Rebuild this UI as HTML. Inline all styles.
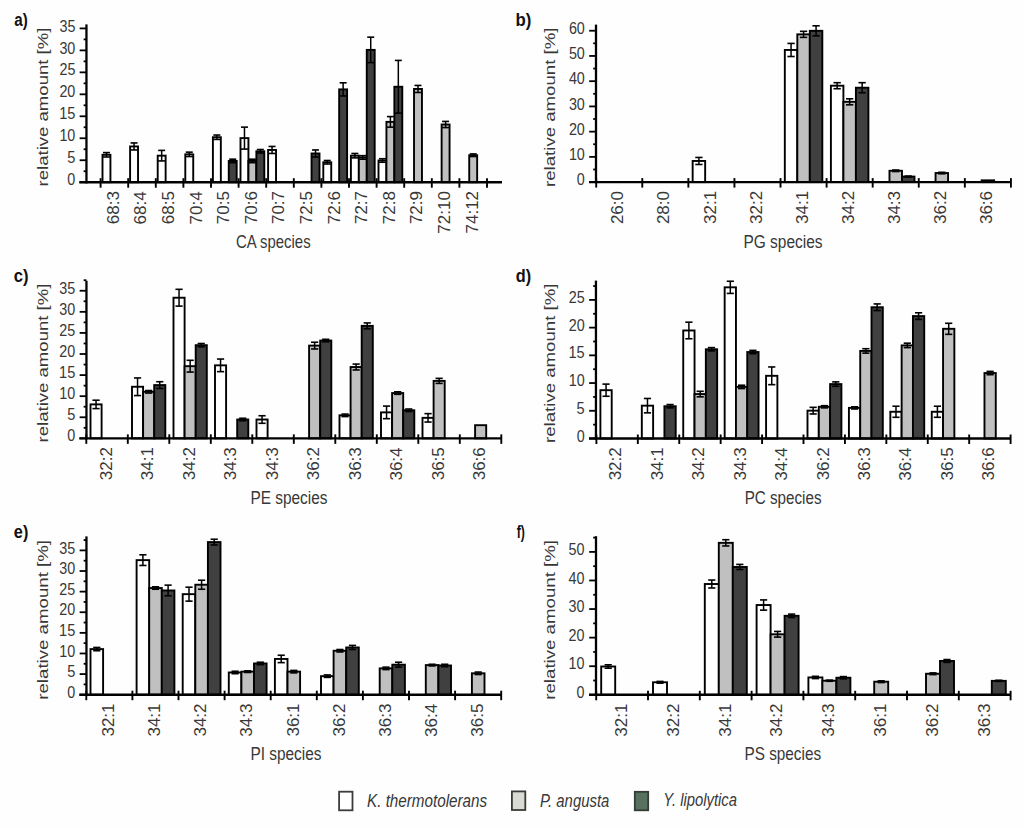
<!DOCTYPE html>
<html><head><meta charset="utf-8"><style>
html,body{margin:0;padding:0;background:#fff;}
svg{display:block;}
text{font-family:"Liberation Sans", sans-serif;}
</style></head><body>
<svg width="1024" height="828" viewBox="0 0 1024 828">
<rect width="1024" height="828" fill="#fefefe"/>
<rect x="102.50" y="154.79" width="7.93" height="27.41" fill="#ffffff" stroke="#000" stroke-width="1.9"/>
<rect x="130.10" y="146.45" width="7.93" height="35.75" fill="#ffffff" stroke="#000" stroke-width="1.9"/>
<rect x="157.70" y="155.67" width="7.93" height="26.53" fill="#ffffff" stroke="#000" stroke-width="1.9"/>
<rect x="185.30" y="154.35" width="7.93" height="27.85" fill="#ffffff" stroke="#000" stroke-width="1.9"/>
<rect x="212.90" y="137.23" width="7.93" height="44.97" fill="#ffffff" stroke="#000" stroke-width="1.9"/>
<rect x="228.76" y="160.93" width="7.93" height="21.27" fill="#404040" stroke="#000" stroke-width="1.9"/>
<rect x="240.50" y="138.11" width="7.93" height="44.09" fill="#ffffff" stroke="#000" stroke-width="1.9"/>
<rect x="248.43" y="160.93" width="7.93" height="21.27" fill="#c0c0c0" stroke="#000" stroke-width="1.9"/>
<rect x="256.36" y="151.28" width="7.93" height="30.92" fill="#404040" stroke="#000" stroke-width="1.9"/>
<rect x="268.10" y="149.96" width="7.93" height="32.24" fill="#ffffff" stroke="#000" stroke-width="1.9"/>
<rect x="311.56" y="153.47" width="7.93" height="28.73" fill="#404040" stroke="#000" stroke-width="1.9"/>
<rect x="323.30" y="162.25" width="7.93" height="19.95" fill="#ffffff" stroke="#000" stroke-width="1.9"/>
<rect x="339.16" y="89.39" width="7.93" height="92.81" fill="#404040" stroke="#000" stroke-width="1.9"/>
<rect x="350.90" y="155.67" width="7.93" height="26.53" fill="#ffffff" stroke="#000" stroke-width="1.9"/>
<rect x="358.83" y="157.42" width="7.93" height="24.78" fill="#c0c0c0" stroke="#000" stroke-width="1.9"/>
<rect x="366.76" y="49.89" width="7.93" height="132.31" fill="#404040" stroke="#000" stroke-width="1.9"/>
<rect x="378.50" y="160.49" width="7.93" height="21.71" fill="#ffffff" stroke="#000" stroke-width="1.9"/>
<rect x="386.43" y="121.87" width="7.93" height="60.33" fill="#c0c0c0" stroke="#000" stroke-width="1.9"/>
<rect x="394.36" y="86.76" width="7.93" height="95.44" fill="#404040" stroke="#000" stroke-width="1.9"/>
<rect x="414.03" y="88.95" width="7.93" height="93.25" fill="#c0c0c0" stroke="#000" stroke-width="1.9"/>
<rect x="441.63" y="124.50" width="7.93" height="57.70" fill="#c0c0c0" stroke="#000" stroke-width="1.9"/>
<rect x="469.23" y="155.23" width="7.93" height="26.97" fill="#c0c0c0" stroke="#000" stroke-width="1.9"/>
<line x1="106.47" y1="152.59" x2="106.47" y2="156.98" stroke="#000" stroke-width="1.5"/>
<line x1="102.97" y1="152.59" x2="109.97" y2="152.59" stroke="#000" stroke-width="1.6"/>
<line x1="102.97" y1="156.98" x2="109.97" y2="156.98" stroke="#000" stroke-width="1.6"/>
<line x1="134.06" y1="142.94" x2="134.06" y2="149.96" stroke="#000" stroke-width="1.5"/>
<line x1="130.56" y1="142.94" x2="137.56" y2="142.94" stroke="#000" stroke-width="1.6"/>
<line x1="130.56" y1="149.96" x2="137.56" y2="149.96" stroke="#000" stroke-width="1.6"/>
<line x1="161.67" y1="150.40" x2="161.67" y2="160.93" stroke="#000" stroke-width="1.5"/>
<line x1="158.17" y1="150.40" x2="165.17" y2="150.40" stroke="#000" stroke-width="1.6"/>
<line x1="158.17" y1="160.93" x2="165.17" y2="160.93" stroke="#000" stroke-width="1.6"/>
<line x1="189.27" y1="152.15" x2="189.27" y2="156.54" stroke="#000" stroke-width="1.5"/>
<line x1="185.77" y1="152.15" x2="192.77" y2="152.15" stroke="#000" stroke-width="1.6"/>
<line x1="185.77" y1="156.54" x2="192.77" y2="156.54" stroke="#000" stroke-width="1.6"/>
<line x1="216.87" y1="135.04" x2="216.87" y2="139.43" stroke="#000" stroke-width="1.5"/>
<line x1="213.37" y1="135.04" x2="220.37" y2="135.04" stroke="#000" stroke-width="1.6"/>
<line x1="213.37" y1="139.43" x2="220.37" y2="139.43" stroke="#000" stroke-width="1.6"/>
<line x1="232.72" y1="159.18" x2="232.72" y2="162.69" stroke="#000" stroke-width="1.5"/>
<line x1="229.22" y1="159.18" x2="236.22" y2="159.18" stroke="#000" stroke-width="1.6"/>
<line x1="229.22" y1="162.69" x2="236.22" y2="162.69" stroke="#000" stroke-width="1.6"/>
<line x1="244.47" y1="127.14" x2="244.47" y2="149.08" stroke="#000" stroke-width="1.5"/>
<line x1="240.97" y1="127.14" x2="247.97" y2="127.14" stroke="#000" stroke-width="1.6"/>
<line x1="240.97" y1="149.08" x2="247.97" y2="149.08" stroke="#000" stroke-width="1.6"/>
<line x1="252.40" y1="159.18" x2="252.40" y2="162.69" stroke="#000" stroke-width="1.5"/>
<line x1="248.90" y1="159.18" x2="255.90" y2="159.18" stroke="#000" stroke-width="1.6"/>
<line x1="248.90" y1="162.69" x2="255.90" y2="162.69" stroke="#000" stroke-width="1.6"/>
<line x1="260.32" y1="149.52" x2="260.32" y2="153.03" stroke="#000" stroke-width="1.5"/>
<line x1="256.82" y1="149.52" x2="263.82" y2="149.52" stroke="#000" stroke-width="1.6"/>
<line x1="256.82" y1="153.03" x2="263.82" y2="153.03" stroke="#000" stroke-width="1.6"/>
<line x1="272.06" y1="146.45" x2="272.06" y2="153.47" stroke="#000" stroke-width="1.5"/>
<line x1="268.56" y1="146.45" x2="275.56" y2="146.45" stroke="#000" stroke-width="1.6"/>
<line x1="268.56" y1="153.47" x2="275.56" y2="153.47" stroke="#000" stroke-width="1.6"/>
<line x1="315.52" y1="149.96" x2="315.52" y2="156.98" stroke="#000" stroke-width="1.5"/>
<line x1="312.02" y1="149.96" x2="319.02" y2="149.96" stroke="#000" stroke-width="1.6"/>
<line x1="312.02" y1="156.98" x2="319.02" y2="156.98" stroke="#000" stroke-width="1.6"/>
<line x1="327.26" y1="160.49" x2="327.26" y2="164.01" stroke="#000" stroke-width="1.5"/>
<line x1="323.76" y1="160.49" x2="330.76" y2="160.49" stroke="#000" stroke-width="1.6"/>
<line x1="323.76" y1="164.01" x2="330.76" y2="164.01" stroke="#000" stroke-width="1.6"/>
<line x1="343.12" y1="82.81" x2="343.12" y2="95.98" stroke="#000" stroke-width="1.5"/>
<line x1="339.62" y1="82.81" x2="346.62" y2="82.81" stroke="#000" stroke-width="1.6"/>
<line x1="339.62" y1="95.98" x2="346.62" y2="95.98" stroke="#000" stroke-width="1.6"/>
<line x1="354.86" y1="153.47" x2="354.86" y2="157.86" stroke="#000" stroke-width="1.5"/>
<line x1="351.36" y1="153.47" x2="358.36" y2="153.47" stroke="#000" stroke-width="1.6"/>
<line x1="351.36" y1="157.86" x2="358.36" y2="157.86" stroke="#000" stroke-width="1.6"/>
<line x1="362.79" y1="155.67" x2="362.79" y2="159.18" stroke="#000" stroke-width="1.5"/>
<line x1="359.29" y1="155.67" x2="366.29" y2="155.67" stroke="#000" stroke-width="1.6"/>
<line x1="359.29" y1="159.18" x2="366.29" y2="159.18" stroke="#000" stroke-width="1.6"/>
<line x1="370.72" y1="37.16" x2="370.72" y2="62.62" stroke="#000" stroke-width="1.5"/>
<line x1="367.22" y1="37.16" x2="374.22" y2="37.16" stroke="#000" stroke-width="1.6"/>
<line x1="367.22" y1="62.62" x2="374.22" y2="62.62" stroke="#000" stroke-width="1.6"/>
<line x1="382.46" y1="158.74" x2="382.46" y2="162.25" stroke="#000" stroke-width="1.5"/>
<line x1="378.96" y1="158.74" x2="385.96" y2="158.74" stroke="#000" stroke-width="1.6"/>
<line x1="378.96" y1="162.25" x2="385.96" y2="162.25" stroke="#000" stroke-width="1.6"/>
<line x1="390.39" y1="116.60" x2="390.39" y2="127.14" stroke="#000" stroke-width="1.5"/>
<line x1="386.89" y1="116.60" x2="393.89" y2="116.60" stroke="#000" stroke-width="1.6"/>
<line x1="386.89" y1="127.14" x2="393.89" y2="127.14" stroke="#000" stroke-width="1.6"/>
<line x1="398.32" y1="60.42" x2="398.32" y2="113.09" stroke="#000" stroke-width="1.5"/>
<line x1="394.82" y1="60.42" x2="401.82" y2="60.42" stroke="#000" stroke-width="1.6"/>
<line x1="394.82" y1="113.09" x2="401.82" y2="113.09" stroke="#000" stroke-width="1.6"/>
<line x1="418.00" y1="85.44" x2="418.00" y2="92.46" stroke="#000" stroke-width="1.5"/>
<line x1="414.50" y1="85.44" x2="421.50" y2="85.44" stroke="#000" stroke-width="1.6"/>
<line x1="414.50" y1="92.46" x2="421.50" y2="92.46" stroke="#000" stroke-width="1.6"/>
<line x1="445.60" y1="121.43" x2="445.60" y2="127.58" stroke="#000" stroke-width="1.5"/>
<line x1="442.10" y1="121.43" x2="449.10" y2="121.43" stroke="#000" stroke-width="1.6"/>
<line x1="442.10" y1="127.58" x2="449.10" y2="127.58" stroke="#000" stroke-width="1.6"/>
<line x1="473.19" y1="153.91" x2="473.19" y2="156.54" stroke="#000" stroke-width="1.5"/>
<line x1="469.69" y1="153.91" x2="476.69" y2="153.91" stroke="#000" stroke-width="1.6"/>
<line x1="469.69" y1="156.54" x2="476.69" y2="156.54" stroke="#000" stroke-width="1.6"/>
<line x1="86.45" y1="24.40" x2="86.45" y2="183.40" stroke="#000" stroke-width="2.3"/>
<line x1="79.30" y1="182.20" x2="502.00" y2="182.20" stroke="#000" stroke-width="2.4"/>
<line x1="79.65" y1="182.20" x2="86.45" y2="182.20" stroke="#000" stroke-width="1.8"/>
<line x1="79.65" y1="160.23" x2="86.45" y2="160.23" stroke="#000" stroke-width="1.8"/>
<line x1="79.65" y1="138.26" x2="86.45" y2="138.26" stroke="#000" stroke-width="1.8"/>
<line x1="79.65" y1="116.29" x2="86.45" y2="116.29" stroke="#000" stroke-width="1.8"/>
<line x1="79.65" y1="94.32" x2="86.45" y2="94.32" stroke="#000" stroke-width="1.8"/>
<line x1="79.65" y1="72.35" x2="86.45" y2="72.35" stroke="#000" stroke-width="1.8"/>
<line x1="79.65" y1="50.38" x2="86.45" y2="50.38" stroke="#000" stroke-width="1.8"/>
<line x1="79.65" y1="28.41" x2="86.45" y2="28.41" stroke="#000" stroke-width="1.8"/>
<line x1="83.65" y1="171.21" x2="86.45" y2="171.21" stroke="#000" stroke-width="1.8"/>
<line x1="83.65" y1="149.25" x2="86.45" y2="149.25" stroke="#000" stroke-width="1.8"/>
<line x1="83.65" y1="127.27" x2="86.45" y2="127.27" stroke="#000" stroke-width="1.8"/>
<line x1="83.65" y1="105.30" x2="86.45" y2="105.30" stroke="#000" stroke-width="1.8"/>
<line x1="83.65" y1="83.33" x2="86.45" y2="83.33" stroke="#000" stroke-width="1.8"/>
<line x1="83.65" y1="61.36" x2="86.45" y2="61.36" stroke="#000" stroke-width="1.8"/>
<line x1="83.65" y1="39.39" x2="86.45" y2="39.39" stroke="#000" stroke-width="1.8"/>
<line x1="100.60" y1="178.20" x2="100.60" y2="187.70" stroke="#000" stroke-width="1.9"/>
<line x1="128.20" y1="178.20" x2="128.20" y2="187.70" stroke="#000" stroke-width="1.9"/>
<line x1="155.80" y1="178.20" x2="155.80" y2="187.70" stroke="#000" stroke-width="1.9"/>
<line x1="183.40" y1="178.20" x2="183.40" y2="187.70" stroke="#000" stroke-width="1.9"/>
<line x1="211.00" y1="178.20" x2="211.00" y2="187.70" stroke="#000" stroke-width="1.9"/>
<line x1="238.60" y1="178.20" x2="238.60" y2="187.70" stroke="#000" stroke-width="1.9"/>
<line x1="266.20" y1="178.20" x2="266.20" y2="187.70" stroke="#000" stroke-width="1.9"/>
<line x1="293.80" y1="178.20" x2="293.80" y2="187.70" stroke="#000" stroke-width="1.9"/>
<line x1="321.40" y1="178.20" x2="321.40" y2="187.70" stroke="#000" stroke-width="1.9"/>
<line x1="349.00" y1="178.20" x2="349.00" y2="187.70" stroke="#000" stroke-width="1.9"/>
<line x1="376.60" y1="178.20" x2="376.60" y2="187.70" stroke="#000" stroke-width="1.9"/>
<line x1="404.20" y1="178.20" x2="404.20" y2="187.70" stroke="#000" stroke-width="1.9"/>
<line x1="431.80" y1="178.20" x2="431.80" y2="187.70" stroke="#000" stroke-width="1.9"/>
<line x1="459.40" y1="178.20" x2="459.40" y2="187.70" stroke="#000" stroke-width="1.9"/>
<line x1="487.00" y1="178.20" x2="487.00" y2="187.70" stroke="#000" stroke-width="1.9"/>
<text transform="translate(67.37,185.34) scale(0.9000,1)" font-size="15.96" fill="#383838">0</text>
<text transform="translate(67.31,163.37) scale(0.9000,1)" font-size="16.19" fill="#383838">5</text>
<text transform="translate(59.38,141.40) scale(0.9000,1)" font-size="15.96" fill="#383838">10</text>
<text transform="translate(59.20,119.43) scale(0.9000,1)" font-size="16.19" fill="#383838">15</text>
<text transform="translate(59.38,97.46) scale(0.9000,1)" font-size="15.96" fill="#383838">20</text>
<text transform="translate(59.43,75.49) scale(0.9000,1)" font-size="15.96" fill="#383838">25</text>
<text transform="translate(59.38,53.52) scale(0.9000,1)" font-size="15.96" fill="#383838">30</text>
<text transform="translate(59.43,31.55) scale(0.9000,1)" font-size="15.96" fill="#383838">35</text>
<text transform="translate(118.70,224.14) scale(0.9300,1) rotate(-90)" font-size="17.00" fill="#383838">68:3</text>
<text transform="translate(146.30,224.39) scale(0.9300,1) rotate(-90)" font-size="17.00" fill="#383838">68:4</text>
<text transform="translate(173.90,224.17) scale(0.9300,1) rotate(-90)" font-size="17.00" fill="#383838">68:5</text>
<text transform="translate(201.50,224.39) scale(0.9300,1) rotate(-90)" font-size="17.00" fill="#383838">70:4</text>
<text transform="translate(229.10,224.17) scale(0.9300,1) rotate(-90)" font-size="17.00" fill="#383838">70:5</text>
<text transform="translate(256.70,224.14) scale(0.9300,1) rotate(-90)" font-size="17.00" fill="#383838">70:6</text>
<text transform="translate(284.30,224.03) scale(0.9300,1) rotate(-90)" font-size="17.00" fill="#383838">70:7</text>
<text transform="translate(311.90,224.17) scale(0.9300,1) rotate(-90)" font-size="17.00" fill="#383838">72:5</text>
<text transform="translate(339.50,224.14) scale(0.9300,1) rotate(-90)" font-size="17.00" fill="#383838">72:6</text>
<text transform="translate(367.25,224.03) scale(0.9300,1) rotate(-90)" font-size="17.00" fill="#383838">72:7</text>
<text transform="translate(394.70,224.15) scale(0.9300,1) rotate(-90)" font-size="17.00" fill="#383838">72:8</text>
<text transform="translate(422.30,224.08) scale(0.9300,1) rotate(-90)" font-size="17.00" fill="#383838">72:9</text>
<text transform="translate(449.90,233.68) scale(0.9300,1) rotate(-90)" font-size="17.00" fill="#383838">72:10</text>
<text transform="translate(477.65,233.49) scale(0.9300,1) rotate(-90)" font-size="17.00" fill="#383838">74:12</text>
<text transform="translate(48.24,186.43) scale(0.8198,1) rotate(-90)" font-size="18.58" fill="#383838">relative amount [%]</text>
<text transform="translate(236.04,248.20) scale(0.8246,1)" font-size="18.08" fill="#383838">CA species</text>
<text transform="translate(14.36,25.80) scale(0.7973,1)" font-size="19.04" font-weight="bold" fill="#111">a)</text>
<rect x="692.66" y="160.96" width="12.50" height="21.14" fill="#ffffff" stroke="#000" stroke-width="1.9"/>
<rect x="784.82" y="49.96" width="12.50" height="132.14" fill="#ffffff" stroke="#000" stroke-width="1.9"/>
<rect x="797.32" y="34.36" width="12.50" height="147.74" fill="#c0c0c0" stroke="#000" stroke-width="1.9"/>
<rect x="809.82" y="30.83" width="12.50" height="151.27" fill="#404040" stroke="#000" stroke-width="1.9"/>
<rect x="830.90" y="85.70" width="12.50" height="96.40" fill="#ffffff" stroke="#000" stroke-width="1.9"/>
<rect x="843.40" y="101.81" width="12.50" height="80.29" fill="#c0c0c0" stroke="#000" stroke-width="1.9"/>
<rect x="855.90" y="87.72" width="12.50" height="94.38" fill="#404040" stroke="#000" stroke-width="1.9"/>
<rect x="889.48" y="170.78" width="12.50" height="11.32" fill="#c0c0c0" stroke="#000" stroke-width="1.9"/>
<rect x="901.98" y="176.57" width="12.50" height="5.53" fill="#404040" stroke="#000" stroke-width="1.9"/>
<rect x="935.56" y="173.04" width="12.50" height="9.06" fill="#c0c0c0" stroke="#000" stroke-width="1.9"/>
<rect x="981.64" y="180.34" width="12.50" height="1.76" fill="#c0c0c0" stroke="#000" stroke-width="1.9"/>
<line x1="698.91" y1="157.44" x2="698.91" y2="164.48" stroke="#000" stroke-width="1.5"/>
<line x1="695.26" y1="157.44" x2="702.56" y2="157.44" stroke="#000" stroke-width="1.6"/>
<line x1="695.26" y1="164.48" x2="702.56" y2="164.48" stroke="#000" stroke-width="1.6"/>
<line x1="791.07" y1="43.42" x2="791.07" y2="56.51" stroke="#000" stroke-width="1.5"/>
<line x1="787.42" y1="43.42" x2="794.72" y2="43.42" stroke="#000" stroke-width="1.6"/>
<line x1="787.42" y1="56.51" x2="794.72" y2="56.51" stroke="#000" stroke-width="1.6"/>
<line x1="803.57" y1="31.34" x2="803.57" y2="37.38" stroke="#000" stroke-width="1.5"/>
<line x1="799.92" y1="31.34" x2="807.22" y2="31.34" stroke="#000" stroke-width="1.6"/>
<line x1="799.92" y1="37.38" x2="807.22" y2="37.38" stroke="#000" stroke-width="1.6"/>
<line x1="816.07" y1="25.80" x2="816.07" y2="35.87" stroke="#000" stroke-width="1.5"/>
<line x1="812.42" y1="25.80" x2="819.72" y2="25.80" stroke="#000" stroke-width="1.6"/>
<line x1="812.42" y1="35.87" x2="819.72" y2="35.87" stroke="#000" stroke-width="1.6"/>
<line x1="837.15" y1="82.68" x2="837.15" y2="88.72" stroke="#000" stroke-width="1.5"/>
<line x1="833.50" y1="82.68" x2="840.80" y2="82.68" stroke="#000" stroke-width="1.6"/>
<line x1="833.50" y1="88.72" x2="840.80" y2="88.72" stroke="#000" stroke-width="1.6"/>
<line x1="849.65" y1="98.79" x2="849.65" y2="104.83" stroke="#000" stroke-width="1.5"/>
<line x1="846.00" y1="98.79" x2="853.30" y2="98.79" stroke="#000" stroke-width="1.6"/>
<line x1="846.00" y1="104.83" x2="853.30" y2="104.83" stroke="#000" stroke-width="1.6"/>
<line x1="862.15" y1="82.68" x2="862.15" y2="92.75" stroke="#000" stroke-width="1.5"/>
<line x1="858.50" y1="82.68" x2="865.80" y2="82.68" stroke="#000" stroke-width="1.6"/>
<line x1="858.50" y1="92.75" x2="865.80" y2="92.75" stroke="#000" stroke-width="1.6"/>
<line x1="895.73" y1="170.02" x2="895.73" y2="171.53" stroke="#000" stroke-width="1.5"/>
<line x1="892.08" y1="170.02" x2="899.38" y2="170.02" stroke="#000" stroke-width="1.6"/>
<line x1="892.08" y1="171.53" x2="899.38" y2="171.53" stroke="#000" stroke-width="1.6"/>
<line x1="908.23" y1="176.06" x2="908.23" y2="177.07" stroke="#000" stroke-width="1.5"/>
<line x1="904.58" y1="176.06" x2="911.88" y2="176.06" stroke="#000" stroke-width="1.6"/>
<line x1="904.58" y1="177.07" x2="911.88" y2="177.07" stroke="#000" stroke-width="1.6"/>
<line x1="941.81" y1="172.29" x2="941.81" y2="173.80" stroke="#000" stroke-width="1.5"/>
<line x1="938.16" y1="172.29" x2="945.46" y2="172.29" stroke="#000" stroke-width="1.6"/>
<line x1="938.16" y1="173.80" x2="945.46" y2="173.80" stroke="#000" stroke-width="1.6"/>
<line x1="596.00" y1="24.60" x2="596.00" y2="183.30" stroke="#000" stroke-width="2.3"/>
<line x1="589.00" y1="182.10" x2="1011.00" y2="182.10" stroke="#000" stroke-width="2.4"/>
<line x1="589.20" y1="182.10" x2="596.00" y2="182.10" stroke="#000" stroke-width="1.8"/>
<line x1="589.20" y1="156.87" x2="596.00" y2="156.87" stroke="#000" stroke-width="1.8"/>
<line x1="589.20" y1="131.64" x2="596.00" y2="131.64" stroke="#000" stroke-width="1.8"/>
<line x1="589.20" y1="106.41" x2="596.00" y2="106.41" stroke="#000" stroke-width="1.8"/>
<line x1="589.20" y1="81.18" x2="596.00" y2="81.18" stroke="#000" stroke-width="1.8"/>
<line x1="589.20" y1="55.95" x2="596.00" y2="55.95" stroke="#000" stroke-width="1.8"/>
<line x1="589.20" y1="30.72" x2="596.00" y2="30.72" stroke="#000" stroke-width="1.8"/>
<line x1="593.20" y1="169.48" x2="596.00" y2="169.48" stroke="#000" stroke-width="1.8"/>
<line x1="593.20" y1="144.25" x2="596.00" y2="144.25" stroke="#000" stroke-width="1.8"/>
<line x1="593.20" y1="119.02" x2="596.00" y2="119.02" stroke="#000" stroke-width="1.8"/>
<line x1="593.20" y1="93.79" x2="596.00" y2="93.79" stroke="#000" stroke-width="1.8"/>
<line x1="593.20" y1="68.56" x2="596.00" y2="68.56" stroke="#000" stroke-width="1.8"/>
<line x1="593.20" y1="43.33" x2="596.00" y2="43.33" stroke="#000" stroke-width="1.8"/>
<line x1="596.20" y1="178.10" x2="596.20" y2="187.60" stroke="#000" stroke-width="1.9"/>
<line x1="642.28" y1="178.10" x2="642.28" y2="187.60" stroke="#000" stroke-width="1.9"/>
<line x1="688.36" y1="178.10" x2="688.36" y2="187.60" stroke="#000" stroke-width="1.9"/>
<line x1="734.44" y1="178.10" x2="734.44" y2="187.60" stroke="#000" stroke-width="1.9"/>
<line x1="780.52" y1="178.10" x2="780.52" y2="187.60" stroke="#000" stroke-width="1.9"/>
<line x1="826.60" y1="178.10" x2="826.60" y2="187.60" stroke="#000" stroke-width="1.9"/>
<line x1="872.68" y1="178.10" x2="872.68" y2="187.60" stroke="#000" stroke-width="1.9"/>
<line x1="918.76" y1="178.10" x2="918.76" y2="187.60" stroke="#000" stroke-width="1.9"/>
<line x1="964.84" y1="178.10" x2="964.84" y2="187.60" stroke="#000" stroke-width="1.9"/>
<line x1="1010.92" y1="178.10" x2="1010.92" y2="187.60" stroke="#000" stroke-width="1.9"/>
<text transform="translate(576.87,185.24) scale(0.9000,1)" font-size="15.96" fill="#383838">0</text>
<text transform="translate(568.88,160.01) scale(0.9000,1)" font-size="15.96" fill="#383838">10</text>
<text transform="translate(568.88,134.78) scale(0.9000,1)" font-size="15.96" fill="#383838">20</text>
<text transform="translate(568.88,109.55) scale(0.9000,1)" font-size="15.96" fill="#383838">30</text>
<text transform="translate(568.88,84.32) scale(0.9000,1)" font-size="15.96" fill="#383838">40</text>
<text transform="translate(568.88,59.09) scale(0.9000,1)" font-size="15.96" fill="#383838">50</text>
<text transform="translate(568.88,33.86) scale(0.9000,1)" font-size="15.96" fill="#383838">60</text>
<text transform="translate(623.34,224.12) scale(0.9300,1) rotate(-90)" font-size="17.00" fill="#383838">26:0</text>
<text transform="translate(669.42,224.12) scale(0.9300,1) rotate(-90)" font-size="17.00" fill="#383838">28:0</text>
<text transform="translate(715.50,223.96) scale(0.9300,1) rotate(-90)" font-size="17.00" fill="#383838">32:1</text>
<text transform="translate(761.58,223.93) scale(0.9300,1) rotate(-90)" font-size="17.00" fill="#383838">32:2</text>
<text transform="translate(807.66,223.96) scale(0.9300,1) rotate(-90)" font-size="17.00" fill="#383838">34:1</text>
<text transform="translate(853.74,223.93) scale(0.9300,1) rotate(-90)" font-size="17.00" fill="#383838">34:2</text>
<text transform="translate(899.82,224.04) scale(0.9300,1) rotate(-90)" font-size="17.00" fill="#383838">34:3</text>
<text transform="translate(945.90,223.93) scale(0.9300,1) rotate(-90)" font-size="17.00" fill="#383838">36:2</text>
<text transform="translate(991.98,224.04) scale(0.9300,1) rotate(-90)" font-size="17.00" fill="#383838">36:6</text>
<text transform="translate(554.75,186.94) scale(0.7884,1) rotate(-90)" font-size="18.64" fill="#383838">relative amount [%]</text>
<text transform="translate(743.43,248.00) scale(0.8626,1)" font-size="17.94" fill="#383838">PG species</text>
<text transform="translate(515.39,25.80) scale(0.8813,1)" font-size="19.04" font-weight="bold" fill="#111">b)</text>
<rect x="90.50" y="404.40" width="11.10" height="33.95" fill="#ffffff" stroke="#000" stroke-width="1.9"/>
<rect x="132.00" y="386.76" width="11.10" height="51.59" fill="#ffffff" stroke="#000" stroke-width="1.9"/>
<rect x="143.10" y="391.80" width="11.10" height="46.55" fill="#c0c0c0" stroke="#000" stroke-width="1.9"/>
<rect x="154.20" y="385.08" width="11.10" height="53.27" fill="#404040" stroke="#000" stroke-width="1.9"/>
<rect x="173.50" y="297.72" width="11.10" height="140.63" fill="#ffffff" stroke="#000" stroke-width="1.9"/>
<rect x="184.60" y="366.18" width="11.10" height="72.17" fill="#c0c0c0" stroke="#000" stroke-width="1.9"/>
<rect x="195.70" y="345.18" width="11.10" height="93.17" fill="#404040" stroke="#000" stroke-width="1.9"/>
<rect x="215.00" y="365.34" width="11.10" height="73.01" fill="#ffffff" stroke="#000" stroke-width="1.9"/>
<rect x="237.20" y="419.52" width="11.10" height="18.83" fill="#404040" stroke="#000" stroke-width="1.9"/>
<rect x="256.50" y="419.52" width="11.10" height="18.83" fill="#ffffff" stroke="#000" stroke-width="1.9"/>
<rect x="309.10" y="345.60" width="11.10" height="92.75" fill="#c0c0c0" stroke="#000" stroke-width="1.9"/>
<rect x="320.20" y="340.56" width="11.10" height="97.79" fill="#404040" stroke="#000" stroke-width="1.9"/>
<rect x="339.50" y="415.32" width="11.10" height="23.03" fill="#ffffff" stroke="#000" stroke-width="1.9"/>
<rect x="350.60" y="367.02" width="11.10" height="71.33" fill="#c0c0c0" stroke="#000" stroke-width="1.9"/>
<rect x="361.70" y="325.86" width="11.10" height="112.49" fill="#404040" stroke="#000" stroke-width="1.9"/>
<rect x="381.00" y="412.38" width="11.10" height="25.97" fill="#ffffff" stroke="#000" stroke-width="1.9"/>
<rect x="392.10" y="393.06" width="11.10" height="45.29" fill="#c0c0c0" stroke="#000" stroke-width="1.9"/>
<rect x="403.20" y="410.28" width="11.10" height="28.07" fill="#404040" stroke="#000" stroke-width="1.9"/>
<rect x="422.50" y="417.84" width="11.10" height="20.51" fill="#ffffff" stroke="#000" stroke-width="1.9"/>
<rect x="433.60" y="380.88" width="11.10" height="57.47" fill="#c0c0c0" stroke="#000" stroke-width="1.9"/>
<rect x="475.10" y="425.19" width="11.10" height="13.16" fill="#c0c0c0" stroke="#000" stroke-width="1.9"/>
<line x1="96.05" y1="400.20" x2="96.05" y2="408.60" stroke="#000" stroke-width="1.5"/>
<line x1="92.45" y1="400.20" x2="99.65" y2="400.20" stroke="#000" stroke-width="1.6"/>
<line x1="92.45" y1="408.60" x2="99.65" y2="408.60" stroke="#000" stroke-width="1.6"/>
<line x1="137.55" y1="377.94" x2="137.55" y2="395.58" stroke="#000" stroke-width="1.5"/>
<line x1="133.95" y1="377.94" x2="141.15" y2="377.94" stroke="#000" stroke-width="1.6"/>
<line x1="133.95" y1="395.58" x2="141.15" y2="395.58" stroke="#000" stroke-width="1.6"/>
<line x1="148.65" y1="390.54" x2="148.65" y2="393.06" stroke="#000" stroke-width="1.5"/>
<line x1="145.05" y1="390.54" x2="152.25" y2="390.54" stroke="#000" stroke-width="1.6"/>
<line x1="145.05" y1="393.06" x2="152.25" y2="393.06" stroke="#000" stroke-width="1.6"/>
<line x1="159.75" y1="381.72" x2="159.75" y2="388.44" stroke="#000" stroke-width="1.5"/>
<line x1="156.15" y1="381.72" x2="163.35" y2="381.72" stroke="#000" stroke-width="1.6"/>
<line x1="156.15" y1="388.44" x2="163.35" y2="388.44" stroke="#000" stroke-width="1.6"/>
<line x1="179.05" y1="289.32" x2="179.05" y2="306.12" stroke="#000" stroke-width="1.5"/>
<line x1="175.45" y1="289.32" x2="182.65" y2="289.32" stroke="#000" stroke-width="1.6"/>
<line x1="175.45" y1="306.12" x2="182.65" y2="306.12" stroke="#000" stroke-width="1.6"/>
<line x1="190.15" y1="360.30" x2="190.15" y2="372.06" stroke="#000" stroke-width="1.5"/>
<line x1="186.55" y1="360.30" x2="193.75" y2="360.30" stroke="#000" stroke-width="1.6"/>
<line x1="186.55" y1="372.06" x2="193.75" y2="372.06" stroke="#000" stroke-width="1.6"/>
<line x1="201.25" y1="343.50" x2="201.25" y2="346.86" stroke="#000" stroke-width="1.5"/>
<line x1="197.65" y1="343.50" x2="204.85" y2="343.50" stroke="#000" stroke-width="1.6"/>
<line x1="197.65" y1="346.86" x2="204.85" y2="346.86" stroke="#000" stroke-width="1.6"/>
<line x1="220.55" y1="359.04" x2="220.55" y2="371.64" stroke="#000" stroke-width="1.5"/>
<line x1="216.95" y1="359.04" x2="224.15" y2="359.04" stroke="#000" stroke-width="1.6"/>
<line x1="216.95" y1="371.64" x2="224.15" y2="371.64" stroke="#000" stroke-width="1.6"/>
<line x1="242.75" y1="418.26" x2="242.75" y2="420.78" stroke="#000" stroke-width="1.5"/>
<line x1="239.15" y1="418.26" x2="246.35" y2="418.26" stroke="#000" stroke-width="1.6"/>
<line x1="239.15" y1="420.78" x2="246.35" y2="420.78" stroke="#000" stroke-width="1.6"/>
<line x1="262.05" y1="415.74" x2="262.05" y2="423.30" stroke="#000" stroke-width="1.5"/>
<line x1="258.45" y1="415.74" x2="265.65" y2="415.74" stroke="#000" stroke-width="1.6"/>
<line x1="258.45" y1="423.30" x2="265.65" y2="423.30" stroke="#000" stroke-width="1.6"/>
<line x1="314.65" y1="342.24" x2="314.65" y2="348.96" stroke="#000" stroke-width="1.5"/>
<line x1="311.05" y1="342.24" x2="318.25" y2="342.24" stroke="#000" stroke-width="1.6"/>
<line x1="311.05" y1="348.96" x2="318.25" y2="348.96" stroke="#000" stroke-width="1.6"/>
<line x1="325.75" y1="339.30" x2="325.75" y2="341.82" stroke="#000" stroke-width="1.5"/>
<line x1="322.15" y1="339.30" x2="329.35" y2="339.30" stroke="#000" stroke-width="1.6"/>
<line x1="322.15" y1="341.82" x2="329.35" y2="341.82" stroke="#000" stroke-width="1.6"/>
<line x1="345.05" y1="414.06" x2="345.05" y2="416.58" stroke="#000" stroke-width="1.5"/>
<line x1="341.45" y1="414.06" x2="348.65" y2="414.06" stroke="#000" stroke-width="1.6"/>
<line x1="341.45" y1="416.58" x2="348.65" y2="416.58" stroke="#000" stroke-width="1.6"/>
<line x1="356.15" y1="364.08" x2="356.15" y2="369.96" stroke="#000" stroke-width="1.5"/>
<line x1="352.55" y1="364.08" x2="359.75" y2="364.08" stroke="#000" stroke-width="1.6"/>
<line x1="352.55" y1="369.96" x2="359.75" y2="369.96" stroke="#000" stroke-width="1.6"/>
<line x1="367.25" y1="322.92" x2="367.25" y2="328.80" stroke="#000" stroke-width="1.5"/>
<line x1="363.65" y1="322.92" x2="370.85" y2="322.92" stroke="#000" stroke-width="1.6"/>
<line x1="363.65" y1="328.80" x2="370.85" y2="328.80" stroke="#000" stroke-width="1.6"/>
<line x1="386.55" y1="406.08" x2="386.55" y2="418.68" stroke="#000" stroke-width="1.5"/>
<line x1="382.95" y1="406.08" x2="390.15" y2="406.08" stroke="#000" stroke-width="1.6"/>
<line x1="382.95" y1="418.68" x2="390.15" y2="418.68" stroke="#000" stroke-width="1.6"/>
<line x1="397.65" y1="391.80" x2="397.65" y2="394.32" stroke="#000" stroke-width="1.5"/>
<line x1="394.05" y1="391.80" x2="401.25" y2="391.80" stroke="#000" stroke-width="1.6"/>
<line x1="394.05" y1="394.32" x2="401.25" y2="394.32" stroke="#000" stroke-width="1.6"/>
<line x1="408.75" y1="409.02" x2="408.75" y2="411.54" stroke="#000" stroke-width="1.5"/>
<line x1="405.15" y1="409.02" x2="412.35" y2="409.02" stroke="#000" stroke-width="1.6"/>
<line x1="405.15" y1="411.54" x2="412.35" y2="411.54" stroke="#000" stroke-width="1.6"/>
<line x1="428.05" y1="413.64" x2="428.05" y2="422.04" stroke="#000" stroke-width="1.5"/>
<line x1="424.45" y1="413.64" x2="431.65" y2="413.64" stroke="#000" stroke-width="1.6"/>
<line x1="424.45" y1="422.04" x2="431.65" y2="422.04" stroke="#000" stroke-width="1.6"/>
<line x1="439.15" y1="378.36" x2="439.15" y2="383.40" stroke="#000" stroke-width="1.5"/>
<line x1="435.55" y1="378.36" x2="442.75" y2="378.36" stroke="#000" stroke-width="1.6"/>
<line x1="435.55" y1="383.40" x2="442.75" y2="383.40" stroke="#000" stroke-width="1.6"/>
<line x1="86.45" y1="280.80" x2="86.45" y2="439.55" stroke="#000" stroke-width="2.3"/>
<line x1="79.30" y1="438.35" x2="501.30" y2="438.35" stroke="#000" stroke-width="2.4"/>
<line x1="79.65" y1="438.35" x2="86.45" y2="438.35" stroke="#000" stroke-width="1.8"/>
<line x1="79.65" y1="417.27" x2="86.45" y2="417.27" stroke="#000" stroke-width="1.8"/>
<line x1="79.65" y1="396.18" x2="86.45" y2="396.18" stroke="#000" stroke-width="1.8"/>
<line x1="79.65" y1="375.10" x2="86.45" y2="375.10" stroke="#000" stroke-width="1.8"/>
<line x1="79.65" y1="354.01" x2="86.45" y2="354.01" stroke="#000" stroke-width="1.8"/>
<line x1="79.65" y1="332.93" x2="86.45" y2="332.93" stroke="#000" stroke-width="1.8"/>
<line x1="79.65" y1="311.84" x2="86.45" y2="311.84" stroke="#000" stroke-width="1.8"/>
<line x1="79.65" y1="290.75" x2="86.45" y2="290.75" stroke="#000" stroke-width="1.8"/>
<line x1="83.65" y1="427.81" x2="86.45" y2="427.81" stroke="#000" stroke-width="1.8"/>
<line x1="83.65" y1="406.72" x2="86.45" y2="406.72" stroke="#000" stroke-width="1.8"/>
<line x1="83.65" y1="385.64" x2="86.45" y2="385.64" stroke="#000" stroke-width="1.8"/>
<line x1="83.65" y1="364.55" x2="86.45" y2="364.55" stroke="#000" stroke-width="1.8"/>
<line x1="83.65" y1="343.47" x2="86.45" y2="343.47" stroke="#000" stroke-width="1.8"/>
<line x1="83.65" y1="322.38" x2="86.45" y2="322.38" stroke="#000" stroke-width="1.8"/>
<line x1="83.65" y1="301.30" x2="86.45" y2="301.30" stroke="#000" stroke-width="1.8"/>
<line x1="83.65" y1="280.21" x2="86.45" y2="280.21" stroke="#000" stroke-width="1.8"/>
<line x1="86.30" y1="434.35" x2="86.30" y2="443.85" stroke="#000" stroke-width="1.9"/>
<line x1="127.80" y1="434.35" x2="127.80" y2="443.85" stroke="#000" stroke-width="1.9"/>
<line x1="169.30" y1="434.35" x2="169.30" y2="443.85" stroke="#000" stroke-width="1.9"/>
<line x1="210.80" y1="434.35" x2="210.80" y2="443.85" stroke="#000" stroke-width="1.9"/>
<line x1="252.30" y1="434.35" x2="252.30" y2="443.85" stroke="#000" stroke-width="1.9"/>
<line x1="293.80" y1="434.35" x2="293.80" y2="443.85" stroke="#000" stroke-width="1.9"/>
<line x1="335.30" y1="434.35" x2="335.30" y2="443.85" stroke="#000" stroke-width="1.9"/>
<line x1="376.80" y1="434.35" x2="376.80" y2="443.85" stroke="#000" stroke-width="1.9"/>
<line x1="418.30" y1="434.35" x2="418.30" y2="443.85" stroke="#000" stroke-width="1.9"/>
<line x1="459.80" y1="434.35" x2="459.80" y2="443.85" stroke="#000" stroke-width="1.9"/>
<line x1="501.30" y1="434.35" x2="501.30" y2="443.85" stroke="#000" stroke-width="1.9"/>
<text transform="translate(67.27,441.49) scale(0.9000,1)" font-size="15.96" fill="#383838">0</text>
<text transform="translate(67.21,420.41) scale(0.9000,1)" font-size="16.19" fill="#383838">5</text>
<text transform="translate(59.28,399.32) scale(0.9000,1)" font-size="15.96" fill="#383838">10</text>
<text transform="translate(59.10,378.24) scale(0.9000,1)" font-size="16.19" fill="#383838">15</text>
<text transform="translate(59.28,357.15) scale(0.9000,1)" font-size="15.96" fill="#383838">20</text>
<text transform="translate(59.33,336.07) scale(0.9000,1)" font-size="15.96" fill="#383838">25</text>
<text transform="translate(59.28,314.98) scale(0.9000,1)" font-size="15.96" fill="#383838">30</text>
<text transform="translate(59.33,293.90) scale(0.9000,1)" font-size="15.96" fill="#383838">35</text>
<text transform="translate(111.95,480.18) scale(0.9300,1) rotate(-90)" font-size="17.00" fill="#383838">32:2</text>
<text transform="translate(153.45,480.21) scale(0.9300,1) rotate(-90)" font-size="17.00" fill="#383838">34:1</text>
<text transform="translate(194.95,480.18) scale(0.9300,1) rotate(-90)" font-size="17.00" fill="#383838">34:2</text>
<text transform="translate(236.45,480.29) scale(0.9300,1) rotate(-90)" font-size="17.00" fill="#383838">34:3</text>
<text transform="translate(277.95,480.29) scale(0.9300,1) rotate(-90)" font-size="17.00" fill="#383838">34:3</text>
<text transform="translate(319.45,480.18) scale(0.9300,1) rotate(-90)" font-size="17.00" fill="#383838">36:2</text>
<text transform="translate(360.95,480.29) scale(0.9300,1) rotate(-90)" font-size="17.00" fill="#383838">36:3</text>
<text transform="translate(402.45,480.54) scale(0.9300,1) rotate(-90)" font-size="17.00" fill="#383838">36:4</text>
<text transform="translate(443.95,480.32) scale(0.9300,1) rotate(-90)" font-size="17.00" fill="#383838">36:5</text>
<text transform="translate(485.45,480.29) scale(0.9300,1) rotate(-90)" font-size="17.00" fill="#383838">36:6</text>
<text transform="translate(48.24,442.43) scale(0.8198,1) rotate(-90)" font-size="18.58" fill="#383838">relative amount [%]</text>
<text transform="translate(250.44,503.90) scale(0.8452,1)" font-size="18.22" fill="#383838">PE species</text>
<text transform="translate(13.85,282.00) scale(0.8920,1)" font-size="18.63" font-weight="bold" fill="#111">c)</text>
<rect x="600.40" y="390.19" width="11.30" height="48.31" fill="#ffffff" stroke="#000" stroke-width="1.9"/>
<rect x="641.82" y="405.67" width="11.30" height="32.83" fill="#ffffff" stroke="#000" stroke-width="1.9"/>
<rect x="664.42" y="406.23" width="11.30" height="32.27" fill="#404040" stroke="#000" stroke-width="1.9"/>
<rect x="683.24" y="330.47" width="11.30" height="108.03" fill="#ffffff" stroke="#000" stroke-width="1.9"/>
<rect x="694.54" y="394.06" width="11.30" height="44.44" fill="#c0c0c0" stroke="#000" stroke-width="1.9"/>
<rect x="705.84" y="349.27" width="11.30" height="89.23" fill="#404040" stroke="#000" stroke-width="1.9"/>
<rect x="724.66" y="287.33" width="11.30" height="151.17" fill="#ffffff" stroke="#000" stroke-width="1.9"/>
<rect x="735.96" y="386.87" width="11.30" height="51.63" fill="#c0c0c0" stroke="#000" stroke-width="1.9"/>
<rect x="747.26" y="352.03" width="11.30" height="86.47" fill="#404040" stroke="#000" stroke-width="1.9"/>
<rect x="766.08" y="375.81" width="11.30" height="62.69" fill="#ffffff" stroke="#000" stroke-width="1.9"/>
<rect x="807.50" y="410.65" width="11.30" height="27.85" fill="#ffffff" stroke="#000" stroke-width="1.9"/>
<rect x="818.80" y="406.78" width="11.30" height="31.72" fill="#c0c0c0" stroke="#000" stroke-width="1.9"/>
<rect x="830.10" y="384.11" width="11.30" height="54.39" fill="#404040" stroke="#000" stroke-width="1.9"/>
<rect x="848.92" y="407.88" width="11.30" height="30.62" fill="#ffffff" stroke="#000" stroke-width="1.9"/>
<rect x="860.22" y="350.93" width="11.30" height="87.57" fill="#c0c0c0" stroke="#000" stroke-width="1.9"/>
<rect x="871.52" y="307.24" width="11.30" height="131.26" fill="#404040" stroke="#000" stroke-width="1.9"/>
<rect x="890.34" y="411.76" width="11.30" height="26.74" fill="#ffffff" stroke="#000" stroke-width="1.9"/>
<rect x="901.64" y="345.40" width="11.30" height="93.10" fill="#c0c0c0" stroke="#000" stroke-width="1.9"/>
<rect x="912.94" y="316.09" width="11.30" height="122.41" fill="#404040" stroke="#000" stroke-width="1.9"/>
<rect x="931.76" y="411.76" width="11.30" height="26.74" fill="#ffffff" stroke="#000" stroke-width="1.9"/>
<rect x="943.06" y="328.81" width="11.30" height="109.69" fill="#c0c0c0" stroke="#000" stroke-width="1.9"/>
<rect x="984.48" y="373.05" width="11.30" height="65.45" fill="#c0c0c0" stroke="#000" stroke-width="1.9"/>
<line x1="606.05" y1="384.11" x2="606.05" y2="396.27" stroke="#000" stroke-width="1.5"/>
<line x1="602.45" y1="384.11" x2="609.65" y2="384.11" stroke="#000" stroke-width="1.6"/>
<line x1="602.45" y1="396.27" x2="609.65" y2="396.27" stroke="#000" stroke-width="1.6"/>
<line x1="647.47" y1="398.48" x2="647.47" y2="412.86" stroke="#000" stroke-width="1.5"/>
<line x1="643.87" y1="398.48" x2="651.07" y2="398.48" stroke="#000" stroke-width="1.6"/>
<line x1="643.87" y1="412.86" x2="651.07" y2="412.86" stroke="#000" stroke-width="1.6"/>
<line x1="670.07" y1="404.57" x2="670.07" y2="407.88" stroke="#000" stroke-width="1.5"/>
<line x1="666.47" y1="404.57" x2="673.67" y2="404.57" stroke="#000" stroke-width="1.6"/>
<line x1="666.47" y1="407.88" x2="673.67" y2="407.88" stroke="#000" stroke-width="1.6"/>
<line x1="688.89" y1="322.17" x2="688.89" y2="338.76" stroke="#000" stroke-width="1.5"/>
<line x1="685.29" y1="322.17" x2="692.49" y2="322.17" stroke="#000" stroke-width="1.6"/>
<line x1="685.29" y1="338.76" x2="692.49" y2="338.76" stroke="#000" stroke-width="1.6"/>
<line x1="700.19" y1="391.30" x2="700.19" y2="396.82" stroke="#000" stroke-width="1.5"/>
<line x1="696.59" y1="391.30" x2="703.79" y2="391.30" stroke="#000" stroke-width="1.6"/>
<line x1="696.59" y1="396.82" x2="703.79" y2="396.82" stroke="#000" stroke-width="1.6"/>
<line x1="711.49" y1="347.61" x2="711.49" y2="350.93" stroke="#000" stroke-width="1.5"/>
<line x1="707.89" y1="347.61" x2="715.09" y2="347.61" stroke="#000" stroke-width="1.6"/>
<line x1="707.89" y1="350.93" x2="715.09" y2="350.93" stroke="#000" stroke-width="1.6"/>
<line x1="730.31" y1="281.25" x2="730.31" y2="293.41" stroke="#000" stroke-width="1.5"/>
<line x1="726.71" y1="281.25" x2="733.91" y2="281.25" stroke="#000" stroke-width="1.6"/>
<line x1="726.71" y1="293.41" x2="733.91" y2="293.41" stroke="#000" stroke-width="1.6"/>
<line x1="741.61" y1="385.21" x2="741.61" y2="388.53" stroke="#000" stroke-width="1.5"/>
<line x1="738.01" y1="385.21" x2="745.21" y2="385.21" stroke="#000" stroke-width="1.6"/>
<line x1="738.01" y1="388.53" x2="745.21" y2="388.53" stroke="#000" stroke-width="1.6"/>
<line x1="752.91" y1="350.37" x2="752.91" y2="353.69" stroke="#000" stroke-width="1.5"/>
<line x1="749.31" y1="350.37" x2="756.51" y2="350.37" stroke="#000" stroke-width="1.6"/>
<line x1="749.31" y1="353.69" x2="756.51" y2="353.69" stroke="#000" stroke-width="1.6"/>
<line x1="771.73" y1="366.96" x2="771.73" y2="384.66" stroke="#000" stroke-width="1.5"/>
<line x1="768.13" y1="366.96" x2="775.33" y2="366.96" stroke="#000" stroke-width="1.6"/>
<line x1="768.13" y1="384.66" x2="775.33" y2="384.66" stroke="#000" stroke-width="1.6"/>
<line x1="813.15" y1="407.33" x2="813.15" y2="413.97" stroke="#000" stroke-width="1.5"/>
<line x1="809.55" y1="407.33" x2="816.75" y2="407.33" stroke="#000" stroke-width="1.6"/>
<line x1="809.55" y1="413.97" x2="816.75" y2="413.97" stroke="#000" stroke-width="1.6"/>
<line x1="824.45" y1="405.67" x2="824.45" y2="407.88" stroke="#000" stroke-width="1.5"/>
<line x1="820.85" y1="405.67" x2="828.05" y2="405.67" stroke="#000" stroke-width="1.6"/>
<line x1="820.85" y1="407.88" x2="828.05" y2="407.88" stroke="#000" stroke-width="1.6"/>
<line x1="835.75" y1="381.89" x2="835.75" y2="386.32" stroke="#000" stroke-width="1.5"/>
<line x1="832.15" y1="381.89" x2="839.35" y2="381.89" stroke="#000" stroke-width="1.6"/>
<line x1="832.15" y1="386.32" x2="839.35" y2="386.32" stroke="#000" stroke-width="1.6"/>
<line x1="854.57" y1="406.78" x2="854.57" y2="408.99" stroke="#000" stroke-width="1.5"/>
<line x1="850.97" y1="406.78" x2="858.17" y2="406.78" stroke="#000" stroke-width="1.6"/>
<line x1="850.97" y1="408.99" x2="858.17" y2="408.99" stroke="#000" stroke-width="1.6"/>
<line x1="865.87" y1="348.71" x2="865.87" y2="353.14" stroke="#000" stroke-width="1.5"/>
<line x1="862.27" y1="348.71" x2="869.47" y2="348.71" stroke="#000" stroke-width="1.6"/>
<line x1="862.27" y1="353.14" x2="869.47" y2="353.14" stroke="#000" stroke-width="1.6"/>
<line x1="877.17" y1="303.92" x2="877.17" y2="310.56" stroke="#000" stroke-width="1.5"/>
<line x1="873.57" y1="303.92" x2="880.77" y2="303.92" stroke="#000" stroke-width="1.6"/>
<line x1="873.57" y1="310.56" x2="880.77" y2="310.56" stroke="#000" stroke-width="1.6"/>
<line x1="895.99" y1="406.23" x2="895.99" y2="417.29" stroke="#000" stroke-width="1.5"/>
<line x1="892.39" y1="406.23" x2="899.59" y2="406.23" stroke="#000" stroke-width="1.6"/>
<line x1="892.39" y1="417.29" x2="899.59" y2="417.29" stroke="#000" stroke-width="1.6"/>
<line x1="907.29" y1="343.18" x2="907.29" y2="347.61" stroke="#000" stroke-width="1.5"/>
<line x1="903.69" y1="343.18" x2="910.89" y2="343.18" stroke="#000" stroke-width="1.6"/>
<line x1="903.69" y1="347.61" x2="910.89" y2="347.61" stroke="#000" stroke-width="1.6"/>
<line x1="918.59" y1="312.77" x2="918.59" y2="319.40" stroke="#000" stroke-width="1.5"/>
<line x1="914.99" y1="312.77" x2="922.19" y2="312.77" stroke="#000" stroke-width="1.6"/>
<line x1="914.99" y1="319.40" x2="922.19" y2="319.40" stroke="#000" stroke-width="1.6"/>
<line x1="937.41" y1="406.23" x2="937.41" y2="417.29" stroke="#000" stroke-width="1.5"/>
<line x1="933.81" y1="406.23" x2="941.01" y2="406.23" stroke="#000" stroke-width="1.6"/>
<line x1="933.81" y1="417.29" x2="941.01" y2="417.29" stroke="#000" stroke-width="1.6"/>
<line x1="948.71" y1="323.28" x2="948.71" y2="334.34" stroke="#000" stroke-width="1.5"/>
<line x1="945.11" y1="323.28" x2="952.31" y2="323.28" stroke="#000" stroke-width="1.6"/>
<line x1="945.11" y1="334.34" x2="952.31" y2="334.34" stroke="#000" stroke-width="1.6"/>
<line x1="990.13" y1="371.39" x2="990.13" y2="374.70" stroke="#000" stroke-width="1.5"/>
<line x1="986.53" y1="371.39" x2="993.73" y2="371.39" stroke="#000" stroke-width="1.6"/>
<line x1="986.53" y1="374.70" x2="993.73" y2="374.70" stroke="#000" stroke-width="1.6"/>
<line x1="595.95" y1="280.60" x2="595.95" y2="439.70" stroke="#000" stroke-width="2.3"/>
<line x1="589.00" y1="438.50" x2="1010.60" y2="438.50" stroke="#000" stroke-width="2.4"/>
<line x1="589.15" y1="438.50" x2="595.95" y2="438.50" stroke="#000" stroke-width="1.8"/>
<line x1="589.15" y1="410.78" x2="595.95" y2="410.78" stroke="#000" stroke-width="1.8"/>
<line x1="589.15" y1="383.06" x2="595.95" y2="383.06" stroke="#000" stroke-width="1.8"/>
<line x1="589.15" y1="355.34" x2="595.95" y2="355.34" stroke="#000" stroke-width="1.8"/>
<line x1="589.15" y1="327.62" x2="595.95" y2="327.62" stroke="#000" stroke-width="1.8"/>
<line x1="589.15" y1="299.90" x2="595.95" y2="299.90" stroke="#000" stroke-width="1.8"/>
<line x1="593.15" y1="424.64" x2="595.95" y2="424.64" stroke="#000" stroke-width="1.8"/>
<line x1="593.15" y1="396.92" x2="595.95" y2="396.92" stroke="#000" stroke-width="1.8"/>
<line x1="593.15" y1="369.20" x2="595.95" y2="369.20" stroke="#000" stroke-width="1.8"/>
<line x1="593.15" y1="341.48" x2="595.95" y2="341.48" stroke="#000" stroke-width="1.8"/>
<line x1="593.15" y1="313.76" x2="595.95" y2="313.76" stroke="#000" stroke-width="1.8"/>
<line x1="593.15" y1="286.04" x2="595.95" y2="286.04" stroke="#000" stroke-width="1.8"/>
<line x1="596.40" y1="434.50" x2="596.40" y2="444.00" stroke="#000" stroke-width="1.9"/>
<line x1="637.82" y1="434.50" x2="637.82" y2="444.00" stroke="#000" stroke-width="1.9"/>
<line x1="679.24" y1="434.50" x2="679.24" y2="444.00" stroke="#000" stroke-width="1.9"/>
<line x1="720.66" y1="434.50" x2="720.66" y2="444.00" stroke="#000" stroke-width="1.9"/>
<line x1="762.08" y1="434.50" x2="762.08" y2="444.00" stroke="#000" stroke-width="1.9"/>
<line x1="803.50" y1="434.50" x2="803.50" y2="444.00" stroke="#000" stroke-width="1.9"/>
<line x1="844.92" y1="434.50" x2="844.92" y2="444.00" stroke="#000" stroke-width="1.9"/>
<line x1="886.34" y1="434.50" x2="886.34" y2="444.00" stroke="#000" stroke-width="1.9"/>
<line x1="927.76" y1="434.50" x2="927.76" y2="444.00" stroke="#000" stroke-width="1.9"/>
<line x1="969.18" y1="434.50" x2="969.18" y2="444.00" stroke="#000" stroke-width="1.9"/>
<line x1="1010.60" y1="434.50" x2="1010.60" y2="444.00" stroke="#000" stroke-width="1.9"/>
<text transform="translate(576.67,441.64) scale(0.9000,1)" font-size="15.96" fill="#383838">0</text>
<text transform="translate(576.61,413.92) scale(0.9000,1)" font-size="16.19" fill="#383838">5</text>
<text transform="translate(568.68,386.20) scale(0.9000,1)" font-size="15.96" fill="#383838">10</text>
<text transform="translate(568.50,358.48) scale(0.9000,1)" font-size="16.19" fill="#383838">15</text>
<text transform="translate(568.68,330.76) scale(0.9000,1)" font-size="15.96" fill="#383838">20</text>
<text transform="translate(568.73,303.04) scale(0.9000,1)" font-size="15.96" fill="#383838">25</text>
<text transform="translate(621.46,480.33) scale(0.9300,1) rotate(-90)" font-size="17.00" fill="#383838">32:2</text>
<text transform="translate(662.88,480.36) scale(0.9300,1) rotate(-90)" font-size="17.00" fill="#383838">34:1</text>
<text transform="translate(704.30,480.33) scale(0.9300,1) rotate(-90)" font-size="17.00" fill="#383838">34:2</text>
<text transform="translate(745.72,480.44) scale(0.9300,1) rotate(-90)" font-size="17.00" fill="#383838">34:3</text>
<text transform="translate(787.14,480.69) scale(0.9300,1) rotate(-90)" font-size="17.00" fill="#383838">34:4</text>
<text transform="translate(828.56,480.33) scale(0.9300,1) rotate(-90)" font-size="17.00" fill="#383838">36:2</text>
<text transform="translate(869.98,480.44) scale(0.9300,1) rotate(-90)" font-size="17.00" fill="#383838">36:3</text>
<text transform="translate(911.40,480.69) scale(0.9300,1) rotate(-90)" font-size="17.00" fill="#383838">36:4</text>
<text transform="translate(952.82,480.47) scale(0.9300,1) rotate(-90)" font-size="17.00" fill="#383838">36:5</text>
<text transform="translate(994.24,480.44) scale(0.9300,1) rotate(-90)" font-size="17.00" fill="#383838">36:6</text>
<text transform="translate(554.75,442.94) scale(0.7884,1) rotate(-90)" font-size="18.64" fill="#383838">relative amount [%]</text>
<text transform="translate(744.65,503.70) scale(0.8346,1)" font-size="18.22" fill="#383838">PC species</text>
<text transform="translate(515.83,282.00) scale(0.8746,1)" font-size="18.63" font-weight="bold" fill="#111">d)</text>
<rect x="90.50" y="649.10" width="12.60" height="45.60" fill="#ffffff" stroke="#000" stroke-width="1.9"/>
<rect x="136.60" y="560.13" width="12.60" height="134.57" fill="#ffffff" stroke="#000" stroke-width="1.9"/>
<rect x="149.20" y="588.01" width="12.60" height="106.69" fill="#c0c0c0" stroke="#000" stroke-width="1.9"/>
<rect x="161.80" y="590.47" width="12.60" height="104.23" fill="#404040" stroke="#000" stroke-width="1.9"/>
<rect x="182.70" y="594.16" width="12.60" height="100.54" fill="#ffffff" stroke="#000" stroke-width="1.9"/>
<rect x="195.30" y="584.73" width="12.60" height="109.97" fill="#c0c0c0" stroke="#000" stroke-width="1.9"/>
<rect x="207.90" y="542.09" width="12.60" height="152.61" fill="#404040" stroke="#000" stroke-width="1.9"/>
<rect x="228.80" y="672.47" width="12.60" height="22.23" fill="#ffffff" stroke="#000" stroke-width="1.9"/>
<rect x="241.40" y="671.65" width="12.60" height="23.05" fill="#c0c0c0" stroke="#000" stroke-width="1.9"/>
<rect x="254.00" y="663.45" width="12.60" height="31.25" fill="#404040" stroke="#000" stroke-width="1.9"/>
<rect x="274.90" y="658.94" width="12.60" height="35.76" fill="#ffffff" stroke="#000" stroke-width="1.9"/>
<rect x="287.50" y="671.65" width="12.60" height="23.05" fill="#c0c0c0" stroke="#000" stroke-width="1.9"/>
<rect x="321.00" y="676.16" width="12.60" height="18.54" fill="#ffffff" stroke="#000" stroke-width="1.9"/>
<rect x="333.60" y="650.74" width="12.60" height="43.96" fill="#c0c0c0" stroke="#000" stroke-width="1.9"/>
<rect x="346.20" y="647.46" width="12.60" height="47.24" fill="#404040" stroke="#000" stroke-width="1.9"/>
<rect x="379.70" y="668.37" width="12.60" height="26.33" fill="#c0c0c0" stroke="#000" stroke-width="1.9"/>
<rect x="392.30" y="664.68" width="12.60" height="30.02" fill="#404040" stroke="#000" stroke-width="1.9"/>
<rect x="425.80" y="665.09" width="12.60" height="29.61" fill="#c0c0c0" stroke="#000" stroke-width="1.9"/>
<rect x="438.40" y="665.50" width="12.60" height="29.20" fill="#404040" stroke="#000" stroke-width="1.9"/>
<rect x="471.90" y="673.29" width="12.60" height="21.41" fill="#c0c0c0" stroke="#000" stroke-width="1.9"/>
<line x1="96.80" y1="647.46" x2="96.80" y2="650.74" stroke="#000" stroke-width="1.5"/>
<line x1="93.20" y1="647.46" x2="100.40" y2="647.46" stroke="#000" stroke-width="1.6"/>
<line x1="93.20" y1="650.74" x2="100.40" y2="650.74" stroke="#000" stroke-width="1.6"/>
<line x1="142.90" y1="554.80" x2="142.90" y2="565.46" stroke="#000" stroke-width="1.5"/>
<line x1="139.30" y1="554.80" x2="146.50" y2="554.80" stroke="#000" stroke-width="1.6"/>
<line x1="139.30" y1="565.46" x2="146.50" y2="565.46" stroke="#000" stroke-width="1.6"/>
<line x1="155.50" y1="586.78" x2="155.50" y2="589.24" stroke="#000" stroke-width="1.5"/>
<line x1="151.90" y1="586.78" x2="159.10" y2="586.78" stroke="#000" stroke-width="1.6"/>
<line x1="151.90" y1="589.24" x2="159.10" y2="589.24" stroke="#000" stroke-width="1.6"/>
<line x1="168.10" y1="585.14" x2="168.10" y2="595.80" stroke="#000" stroke-width="1.5"/>
<line x1="164.50" y1="585.14" x2="171.70" y2="585.14" stroke="#000" stroke-width="1.6"/>
<line x1="164.50" y1="595.80" x2="171.70" y2="595.80" stroke="#000" stroke-width="1.6"/>
<line x1="189.00" y1="587.19" x2="189.00" y2="601.13" stroke="#000" stroke-width="1.5"/>
<line x1="185.40" y1="587.19" x2="192.60" y2="587.19" stroke="#000" stroke-width="1.6"/>
<line x1="185.40" y1="601.13" x2="192.60" y2="601.13" stroke="#000" stroke-width="1.6"/>
<line x1="201.60" y1="580.22" x2="201.60" y2="589.24" stroke="#000" stroke-width="1.5"/>
<line x1="198.00" y1="580.22" x2="205.20" y2="580.22" stroke="#000" stroke-width="1.6"/>
<line x1="198.00" y1="589.24" x2="205.20" y2="589.24" stroke="#000" stroke-width="1.6"/>
<line x1="214.20" y1="539.22" x2="214.20" y2="544.96" stroke="#000" stroke-width="1.5"/>
<line x1="210.60" y1="539.22" x2="217.80" y2="539.22" stroke="#000" stroke-width="1.6"/>
<line x1="210.60" y1="544.96" x2="217.80" y2="544.96" stroke="#000" stroke-width="1.6"/>
<line x1="235.10" y1="671.24" x2="235.10" y2="673.70" stroke="#000" stroke-width="1.5"/>
<line x1="231.50" y1="671.24" x2="238.70" y2="671.24" stroke="#000" stroke-width="1.6"/>
<line x1="231.50" y1="673.70" x2="238.70" y2="673.70" stroke="#000" stroke-width="1.6"/>
<line x1="247.70" y1="670.83" x2="247.70" y2="672.47" stroke="#000" stroke-width="1.5"/>
<line x1="244.10" y1="670.83" x2="251.30" y2="670.83" stroke="#000" stroke-width="1.6"/>
<line x1="244.10" y1="672.47" x2="251.30" y2="672.47" stroke="#000" stroke-width="1.6"/>
<line x1="260.30" y1="662.22" x2="260.30" y2="664.68" stroke="#000" stroke-width="1.5"/>
<line x1="256.70" y1="662.22" x2="263.90" y2="662.22" stroke="#000" stroke-width="1.6"/>
<line x1="256.70" y1="664.68" x2="263.90" y2="664.68" stroke="#000" stroke-width="1.6"/>
<line x1="281.20" y1="655.25" x2="281.20" y2="662.63" stroke="#000" stroke-width="1.5"/>
<line x1="277.60" y1="655.25" x2="284.80" y2="655.25" stroke="#000" stroke-width="1.6"/>
<line x1="277.60" y1="662.63" x2="284.80" y2="662.63" stroke="#000" stroke-width="1.6"/>
<line x1="293.80" y1="670.42" x2="293.80" y2="672.88" stroke="#000" stroke-width="1.5"/>
<line x1="290.20" y1="670.42" x2="297.40" y2="670.42" stroke="#000" stroke-width="1.6"/>
<line x1="290.20" y1="672.88" x2="297.40" y2="672.88" stroke="#000" stroke-width="1.6"/>
<line x1="327.30" y1="674.93" x2="327.30" y2="677.39" stroke="#000" stroke-width="1.5"/>
<line x1="323.70" y1="674.93" x2="330.90" y2="674.93" stroke="#000" stroke-width="1.6"/>
<line x1="323.70" y1="677.39" x2="330.90" y2="677.39" stroke="#000" stroke-width="1.6"/>
<line x1="339.90" y1="649.51" x2="339.90" y2="651.97" stroke="#000" stroke-width="1.5"/>
<line x1="336.30" y1="649.51" x2="343.50" y2="649.51" stroke="#000" stroke-width="1.6"/>
<line x1="336.30" y1="651.97" x2="343.50" y2="651.97" stroke="#000" stroke-width="1.6"/>
<line x1="352.50" y1="645.41" x2="352.50" y2="649.51" stroke="#000" stroke-width="1.5"/>
<line x1="348.90" y1="645.41" x2="356.10" y2="645.41" stroke="#000" stroke-width="1.6"/>
<line x1="348.90" y1="649.51" x2="356.10" y2="649.51" stroke="#000" stroke-width="1.6"/>
<line x1="386.00" y1="667.14" x2="386.00" y2="669.60" stroke="#000" stroke-width="1.5"/>
<line x1="382.40" y1="667.14" x2="389.60" y2="667.14" stroke="#000" stroke-width="1.6"/>
<line x1="382.40" y1="669.60" x2="389.60" y2="669.60" stroke="#000" stroke-width="1.6"/>
<line x1="398.60" y1="662.22" x2="398.60" y2="667.14" stroke="#000" stroke-width="1.5"/>
<line x1="395.00" y1="662.22" x2="402.20" y2="662.22" stroke="#000" stroke-width="1.6"/>
<line x1="395.00" y1="667.14" x2="402.20" y2="667.14" stroke="#000" stroke-width="1.6"/>
<line x1="432.10" y1="664.27" x2="432.10" y2="665.91" stroke="#000" stroke-width="1.5"/>
<line x1="428.50" y1="664.27" x2="435.70" y2="664.27" stroke="#000" stroke-width="1.6"/>
<line x1="428.50" y1="665.91" x2="435.70" y2="665.91" stroke="#000" stroke-width="1.6"/>
<line x1="444.70" y1="664.27" x2="444.70" y2="666.73" stroke="#000" stroke-width="1.5"/>
<line x1="441.10" y1="664.27" x2="448.30" y2="664.27" stroke="#000" stroke-width="1.6"/>
<line x1="441.10" y1="666.73" x2="448.30" y2="666.73" stroke="#000" stroke-width="1.6"/>
<line x1="478.20" y1="672.06" x2="478.20" y2="674.52" stroke="#000" stroke-width="1.5"/>
<line x1="474.60" y1="672.06" x2="481.80" y2="672.06" stroke="#000" stroke-width="1.6"/>
<line x1="474.60" y1="674.52" x2="481.80" y2="674.52" stroke="#000" stroke-width="1.6"/>
<line x1="86.45" y1="536.40" x2="86.45" y2="695.90" stroke="#000" stroke-width="2.3"/>
<line x1="79.30" y1="694.70" x2="501.30" y2="694.70" stroke="#000" stroke-width="2.4"/>
<line x1="79.65" y1="694.70" x2="86.45" y2="694.70" stroke="#000" stroke-width="1.8"/>
<line x1="79.65" y1="674.09" x2="86.45" y2="674.09" stroke="#000" stroke-width="1.8"/>
<line x1="79.65" y1="653.47" x2="86.45" y2="653.47" stroke="#000" stroke-width="1.8"/>
<line x1="79.65" y1="632.86" x2="86.45" y2="632.86" stroke="#000" stroke-width="1.8"/>
<line x1="79.65" y1="612.24" x2="86.45" y2="612.24" stroke="#000" stroke-width="1.8"/>
<line x1="79.65" y1="591.62" x2="86.45" y2="591.62" stroke="#000" stroke-width="1.8"/>
<line x1="79.65" y1="571.01" x2="86.45" y2="571.01" stroke="#000" stroke-width="1.8"/>
<line x1="79.65" y1="550.39" x2="86.45" y2="550.39" stroke="#000" stroke-width="1.8"/>
<line x1="83.65" y1="684.39" x2="86.45" y2="684.39" stroke="#000" stroke-width="1.8"/>
<line x1="83.65" y1="663.78" x2="86.45" y2="663.78" stroke="#000" stroke-width="1.8"/>
<line x1="83.65" y1="643.16" x2="86.45" y2="643.16" stroke="#000" stroke-width="1.8"/>
<line x1="83.65" y1="622.55" x2="86.45" y2="622.55" stroke="#000" stroke-width="1.8"/>
<line x1="83.65" y1="601.93" x2="86.45" y2="601.93" stroke="#000" stroke-width="1.8"/>
<line x1="83.65" y1="581.32" x2="86.45" y2="581.32" stroke="#000" stroke-width="1.8"/>
<line x1="83.65" y1="560.70" x2="86.45" y2="560.70" stroke="#000" stroke-width="1.8"/>
<line x1="83.65" y1="540.09" x2="86.45" y2="540.09" stroke="#000" stroke-width="1.8"/>
<line x1="86.30" y1="690.70" x2="86.30" y2="700.20" stroke="#000" stroke-width="1.9"/>
<line x1="132.40" y1="690.70" x2="132.40" y2="700.20" stroke="#000" stroke-width="1.9"/>
<line x1="178.50" y1="690.70" x2="178.50" y2="700.20" stroke="#000" stroke-width="1.9"/>
<line x1="224.60" y1="690.70" x2="224.60" y2="700.20" stroke="#000" stroke-width="1.9"/>
<line x1="270.70" y1="690.70" x2="270.70" y2="700.20" stroke="#000" stroke-width="1.9"/>
<line x1="316.80" y1="690.70" x2="316.80" y2="700.20" stroke="#000" stroke-width="1.9"/>
<line x1="362.90" y1="690.70" x2="362.90" y2="700.20" stroke="#000" stroke-width="1.9"/>
<line x1="409.00" y1="690.70" x2="409.00" y2="700.20" stroke="#000" stroke-width="1.9"/>
<line x1="455.10" y1="690.70" x2="455.10" y2="700.20" stroke="#000" stroke-width="1.9"/>
<line x1="501.20" y1="690.70" x2="501.20" y2="700.20" stroke="#000" stroke-width="1.9"/>
<text transform="translate(67.27,697.84) scale(0.9000,1)" font-size="15.96" fill="#383838">0</text>
<text transform="translate(67.21,677.23) scale(0.9000,1)" font-size="16.19" fill="#383838">5</text>
<text transform="translate(59.28,656.61) scale(0.9000,1)" font-size="15.96" fill="#383838">10</text>
<text transform="translate(59.10,636.00) scale(0.9000,1)" font-size="16.19" fill="#383838">15</text>
<text transform="translate(59.28,615.38) scale(0.9000,1)" font-size="15.96" fill="#383838">20</text>
<text transform="translate(59.33,594.77) scale(0.9000,1)" font-size="15.96" fill="#383838">25</text>
<text transform="translate(59.28,574.15) scale(0.9000,1)" font-size="15.96" fill="#383838">30</text>
<text transform="translate(59.33,553.54) scale(0.9000,1)" font-size="15.96" fill="#383838">35</text>
<text transform="translate(114.15,736.56) scale(0.9300,1) rotate(-90)" font-size="17.00" fill="#383838">32:1</text>
<text transform="translate(160.25,736.56) scale(0.9300,1) rotate(-90)" font-size="17.00" fill="#383838">34:1</text>
<text transform="translate(206.35,736.53) scale(0.9300,1) rotate(-90)" font-size="17.00" fill="#383838">34:2</text>
<text transform="translate(252.45,736.64) scale(0.9300,1) rotate(-90)" font-size="17.00" fill="#383838">34:3</text>
<text transform="translate(298.55,736.56) scale(0.9300,1) rotate(-90)" font-size="17.00" fill="#383838">36:1</text>
<text transform="translate(344.65,736.53) scale(0.9300,1) rotate(-90)" font-size="17.00" fill="#383838">36:2</text>
<text transform="translate(390.75,736.64) scale(0.9300,1) rotate(-90)" font-size="17.00" fill="#383838">36:3</text>
<text transform="translate(436.85,736.89) scale(0.9300,1) rotate(-90)" font-size="17.00" fill="#383838">36:4</text>
<text transform="translate(482.95,736.67) scale(0.9300,1) rotate(-90)" font-size="17.00" fill="#383838">36:5</text>
<text transform="translate(48.24,699.74) scale(0.8156,1) rotate(-90)" font-size="18.68" fill="#383838">relative amount [%]</text>
<text transform="translate(250.44,760.40) scale(0.8463,1)" font-size="18.22" fill="#383838">PI species</text>
<text transform="translate(13.87,538.30) scale(0.8719,1)" font-size="18.63" font-weight="bold" fill="#111">e)</text>
<rect x="601.20" y="666.51" width="14.00" height="28.29" fill="#ffffff" stroke="#000" stroke-width="1.9"/>
<rect x="653.00" y="682.27" width="14.00" height="12.53" fill="#ffffff" stroke="#000" stroke-width="1.9"/>
<rect x="704.80" y="584.01" width="14.00" height="110.79" fill="#ffffff" stroke="#000" stroke-width="1.9"/>
<rect x="718.80" y="542.83" width="14.00" height="151.97" fill="#c0c0c0" stroke="#000" stroke-width="1.9"/>
<rect x="732.80" y="566.97" width="14.00" height="127.83" fill="#404040" stroke="#000" stroke-width="1.9"/>
<rect x="756.60" y="605.02" width="14.00" height="89.78" fill="#ffffff" stroke="#000" stroke-width="1.9"/>
<rect x="770.60" y="634.28" width="14.00" height="60.52" fill="#c0c0c0" stroke="#000" stroke-width="1.9"/>
<rect x="784.60" y="615.82" width="14.00" height="78.98" fill="#404040" stroke="#000" stroke-width="1.9"/>
<rect x="808.40" y="677.44" width="14.00" height="17.36" fill="#ffffff" stroke="#000" stroke-width="1.9"/>
<rect x="822.40" y="680.71" width="14.00" height="14.09" fill="#c0c0c0" stroke="#000" stroke-width="1.9"/>
<rect x="836.40" y="677.73" width="14.00" height="17.07" fill="#404040" stroke="#000" stroke-width="1.9"/>
<rect x="874.20" y="681.70" width="14.00" height="13.10" fill="#c0c0c0" stroke="#000" stroke-width="1.9"/>
<rect x="926.00" y="673.75" width="14.00" height="21.05" fill="#c0c0c0" stroke="#000" stroke-width="1.9"/>
<rect x="940.00" y="660.97" width="14.00" height="33.83" fill="#404040" stroke="#000" stroke-width="1.9"/>
<rect x="991.80" y="680.85" width="14.00" height="13.95" fill="#404040" stroke="#000" stroke-width="1.9"/>
<line x1="608.20" y1="664.81" x2="608.20" y2="668.21" stroke="#000" stroke-width="1.5"/>
<line x1="604.60" y1="664.81" x2="611.80" y2="664.81" stroke="#000" stroke-width="1.6"/>
<line x1="604.60" y1="668.21" x2="611.80" y2="668.21" stroke="#000" stroke-width="1.6"/>
<line x1="660.00" y1="681.42" x2="660.00" y2="683.12" stroke="#000" stroke-width="1.5"/>
<line x1="656.40" y1="681.42" x2="663.60" y2="681.42" stroke="#000" stroke-width="1.6"/>
<line x1="656.40" y1="683.12" x2="663.60" y2="683.12" stroke="#000" stroke-width="1.6"/>
<line x1="711.80" y1="580.03" x2="711.80" y2="587.98" stroke="#000" stroke-width="1.5"/>
<line x1="708.20" y1="580.03" x2="715.40" y2="580.03" stroke="#000" stroke-width="1.6"/>
<line x1="708.20" y1="587.98" x2="715.40" y2="587.98" stroke="#000" stroke-width="1.6"/>
<line x1="725.80" y1="539.70" x2="725.80" y2="545.95" stroke="#000" stroke-width="1.5"/>
<line x1="722.20" y1="539.70" x2="729.40" y2="539.70" stroke="#000" stroke-width="1.6"/>
<line x1="722.20" y1="545.95" x2="729.40" y2="545.95" stroke="#000" stroke-width="1.6"/>
<line x1="739.80" y1="564.41" x2="739.80" y2="569.52" stroke="#000" stroke-width="1.5"/>
<line x1="736.20" y1="564.41" x2="743.40" y2="564.41" stroke="#000" stroke-width="1.6"/>
<line x1="736.20" y1="569.52" x2="743.40" y2="569.52" stroke="#000" stroke-width="1.6"/>
<line x1="763.60" y1="599.91" x2="763.60" y2="610.14" stroke="#000" stroke-width="1.5"/>
<line x1="760.00" y1="599.91" x2="767.20" y2="599.91" stroke="#000" stroke-width="1.6"/>
<line x1="760.00" y1="610.14" x2="767.20" y2="610.14" stroke="#000" stroke-width="1.6"/>
<line x1="777.60" y1="631.44" x2="777.60" y2="637.12" stroke="#000" stroke-width="1.5"/>
<line x1="774.00" y1="631.44" x2="781.20" y2="631.44" stroke="#000" stroke-width="1.6"/>
<line x1="774.00" y1="637.12" x2="781.20" y2="637.12" stroke="#000" stroke-width="1.6"/>
<line x1="791.60" y1="614.11" x2="791.60" y2="617.52" stroke="#000" stroke-width="1.5"/>
<line x1="788.00" y1="614.11" x2="795.20" y2="614.11" stroke="#000" stroke-width="1.6"/>
<line x1="788.00" y1="617.52" x2="795.20" y2="617.52" stroke="#000" stroke-width="1.6"/>
<line x1="815.40" y1="676.31" x2="815.40" y2="678.58" stroke="#000" stroke-width="1.5"/>
<line x1="811.80" y1="676.31" x2="819.00" y2="676.31" stroke="#000" stroke-width="1.6"/>
<line x1="811.80" y1="678.58" x2="819.00" y2="678.58" stroke="#000" stroke-width="1.6"/>
<line x1="829.40" y1="680.14" x2="829.40" y2="681.28" stroke="#000" stroke-width="1.5"/>
<line x1="825.80" y1="680.14" x2="833.00" y2="680.14" stroke="#000" stroke-width="1.6"/>
<line x1="825.80" y1="681.28" x2="833.00" y2="681.28" stroke="#000" stroke-width="1.6"/>
<line x1="843.40" y1="676.59" x2="843.40" y2="678.86" stroke="#000" stroke-width="1.5"/>
<line x1="839.80" y1="676.59" x2="847.00" y2="676.59" stroke="#000" stroke-width="1.6"/>
<line x1="839.80" y1="678.86" x2="847.00" y2="678.86" stroke="#000" stroke-width="1.6"/>
<line x1="881.20" y1="680.85" x2="881.20" y2="682.56" stroke="#000" stroke-width="1.5"/>
<line x1="877.60" y1="680.85" x2="884.80" y2="680.85" stroke="#000" stroke-width="1.6"/>
<line x1="877.60" y1="682.56" x2="884.80" y2="682.56" stroke="#000" stroke-width="1.6"/>
<line x1="933.00" y1="672.90" x2="933.00" y2="674.60" stroke="#000" stroke-width="1.5"/>
<line x1="929.40" y1="672.90" x2="936.60" y2="672.90" stroke="#000" stroke-width="1.6"/>
<line x1="929.40" y1="674.60" x2="936.60" y2="674.60" stroke="#000" stroke-width="1.6"/>
<line x1="947.00" y1="659.55" x2="947.00" y2="662.39" stroke="#000" stroke-width="1.5"/>
<line x1="943.40" y1="659.55" x2="950.60" y2="659.55" stroke="#000" stroke-width="1.6"/>
<line x1="943.40" y1="662.39" x2="950.60" y2="662.39" stroke="#000" stroke-width="1.6"/>
<line x1="998.80" y1="680.28" x2="998.80" y2="681.42" stroke="#000" stroke-width="1.5"/>
<line x1="995.20" y1="680.28" x2="1002.40" y2="680.28" stroke="#000" stroke-width="1.6"/>
<line x1="995.20" y1="681.42" x2="1002.40" y2="681.42" stroke="#000" stroke-width="1.6"/>
<line x1="596.00" y1="536.20" x2="596.00" y2="696.00" stroke="#000" stroke-width="2.3"/>
<line x1="589.00" y1="694.80" x2="1010.80" y2="694.80" stroke="#000" stroke-width="2.4"/>
<line x1="589.20" y1="694.80" x2="596.00" y2="694.80" stroke="#000" stroke-width="1.8"/>
<line x1="589.20" y1="666.22" x2="596.00" y2="666.22" stroke="#000" stroke-width="1.8"/>
<line x1="589.20" y1="637.64" x2="596.00" y2="637.64" stroke="#000" stroke-width="1.8"/>
<line x1="589.20" y1="609.06" x2="596.00" y2="609.06" stroke="#000" stroke-width="1.8"/>
<line x1="589.20" y1="580.48" x2="596.00" y2="580.48" stroke="#000" stroke-width="1.8"/>
<line x1="589.20" y1="551.90" x2="596.00" y2="551.90" stroke="#000" stroke-width="1.8"/>
<line x1="593.20" y1="680.51" x2="596.00" y2="680.51" stroke="#000" stroke-width="1.8"/>
<line x1="593.20" y1="651.93" x2="596.00" y2="651.93" stroke="#000" stroke-width="1.8"/>
<line x1="593.20" y1="623.35" x2="596.00" y2="623.35" stroke="#000" stroke-width="1.8"/>
<line x1="593.20" y1="594.77" x2="596.00" y2="594.77" stroke="#000" stroke-width="1.8"/>
<line x1="593.20" y1="566.19" x2="596.00" y2="566.19" stroke="#000" stroke-width="1.8"/>
<line x1="593.20" y1="537.61" x2="596.00" y2="537.61" stroke="#000" stroke-width="1.8"/>
<line x1="596.20" y1="690.80" x2="596.20" y2="700.30" stroke="#000" stroke-width="1.9"/>
<line x1="648.00" y1="690.80" x2="648.00" y2="700.30" stroke="#000" stroke-width="1.9"/>
<line x1="699.80" y1="690.80" x2="699.80" y2="700.30" stroke="#000" stroke-width="1.9"/>
<line x1="751.60" y1="690.80" x2="751.60" y2="700.30" stroke="#000" stroke-width="1.9"/>
<line x1="803.40" y1="690.80" x2="803.40" y2="700.30" stroke="#000" stroke-width="1.9"/>
<line x1="855.20" y1="690.80" x2="855.20" y2="700.30" stroke="#000" stroke-width="1.9"/>
<line x1="907.00" y1="690.80" x2="907.00" y2="700.30" stroke="#000" stroke-width="1.9"/>
<line x1="958.80" y1="690.80" x2="958.80" y2="700.30" stroke="#000" stroke-width="1.9"/>
<line x1="1010.60" y1="690.80" x2="1010.60" y2="700.30" stroke="#000" stroke-width="1.9"/>
<text transform="translate(576.57,697.94) scale(0.9000,1)" font-size="15.96" fill="#383838">0</text>
<text transform="translate(568.58,669.36) scale(0.9000,1)" font-size="15.96" fill="#383838">10</text>
<text transform="translate(568.58,640.78) scale(0.9000,1)" font-size="15.96" fill="#383838">20</text>
<text transform="translate(568.58,612.20) scale(0.9000,1)" font-size="15.96" fill="#383838">30</text>
<text transform="translate(568.58,583.62) scale(0.9000,1)" font-size="15.96" fill="#383838">40</text>
<text transform="translate(568.58,555.04) scale(0.9000,1)" font-size="15.96" fill="#383838">50</text>
<text transform="translate(626.95,736.66) scale(0.9300,1) rotate(-90)" font-size="17.00" fill="#383838">32:1</text>
<text transform="translate(678.75,736.63) scale(0.9300,1) rotate(-90)" font-size="17.00" fill="#383838">32:2</text>
<text transform="translate(730.55,736.66) scale(0.9300,1) rotate(-90)" font-size="17.00" fill="#383838">34:1</text>
<text transform="translate(782.35,736.63) scale(0.9300,1) rotate(-90)" font-size="17.00" fill="#383838">34:2</text>
<text transform="translate(834.15,736.74) scale(0.9300,1) rotate(-90)" font-size="17.00" fill="#383838">34:3</text>
<text transform="translate(885.95,736.66) scale(0.9300,1) rotate(-90)" font-size="17.00" fill="#383838">36:1</text>
<text transform="translate(937.75,736.63) scale(0.9300,1) rotate(-90)" font-size="17.00" fill="#383838">36:2</text>
<text transform="translate(989.55,736.74) scale(0.9300,1) rotate(-90)" font-size="17.00" fill="#383838">36:3</text>
<text transform="translate(554.75,699.74) scale(0.7869,1) rotate(-90)" font-size="18.68" fill="#383838">relative amount [%]</text>
<text transform="translate(744.44,760.20) scale(0.8548,1)" font-size="17.94" fill="#383838">PS species</text>
<text transform="translate(516.79,538.30) scale(0.6540,1)" font-size="18.63" font-weight="bold" fill="#111">f)</text>
<rect x="339.10" y="791.70" width="13.40" height="18.60" fill="#ffffff" stroke="#3c3c3c" stroke-width="1.8"/>
<rect x="511.90" y="791.40" width="13.40" height="18.60" fill="#d9dad3" stroke="#3a3a36" stroke-width="1.8"/>
<rect x="634.80" y="791.80" width="13.40" height="18.50" fill="#58705f" stroke="#343d36" stroke-width="1.8"/>
<text transform="translate(367.03,807.30) scale(0.8560,1)" font-size="17.80" font-style="italic" fill="#383838">K. thermotolerans</text>
<text transform="translate(540.04,806.70) scale(0.7950,1)" font-size="18.75" font-style="italic" fill="#383838">P. angusta</text>
<text transform="translate(663.36,805.80) scale(0.8146,1)" font-size="18.22" font-style="italic" fill="#383838">Y. lipolytica</text>
</svg></body></html>
